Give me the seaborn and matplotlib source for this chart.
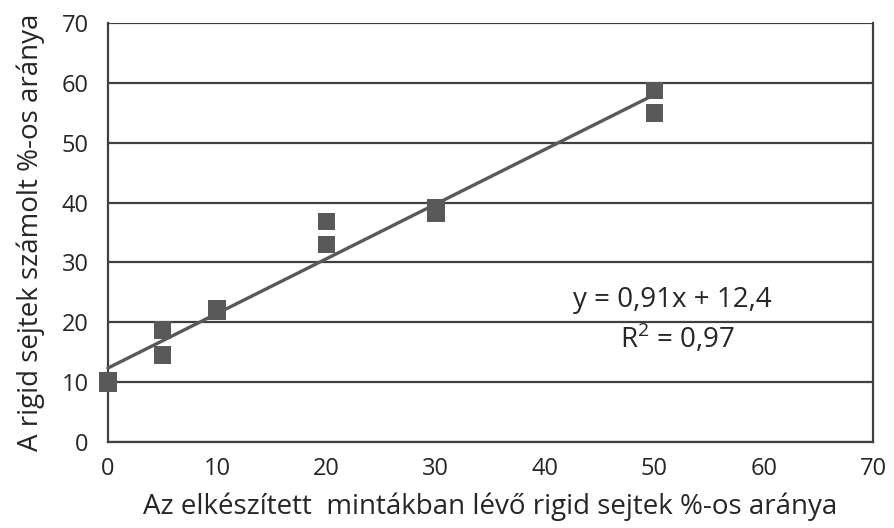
import matplotlib
matplotlib.use("Agg")
import matplotlib.pyplot as plt
import seaborn as sns
import pandas as pd

x_vals = [0, 0, 5, 5, 10, 10, 20, 20, 30, 30, 50, 50]
y_vals = [9.8, 10.3, 18.7, 14.5, 21.8, 22.2, 36.8, 33.0, 39.2, 38.3, 58.7, 55.0]
x_ticks = [0, 10, 20, 30, 40, 50, 60, 70]
y_ticks = [0, 10, 20, 30, 40, 50, 60, 70]
xlabel = "Az elkészített  mintákban lévő rigid sejtek %-os aránya"
ylabel = "A rigid sejtek számolt %-os aránya"
eq_text = "y = 0,91x + 12,4"
r2_text = "R$^2$ = 0,97"

df = pd.DataFrame({"x": x_vals, "y": y_vals})

sns.set_style("white")
plt.rcParams["font.family"] = ["Open Sans", "DejaVu Sans"]
plt.rcParams["mathtext.fontset"] = "custom"
plt.rcParams["mathtext.rm"] = "Open Sans"

fig = plt.figure(figsize=(8.94, 5.28), dpi=100)
ax = fig.add_axes([0.1208, 0.163, 0.8557, 0.7934])

dark = "#595959"
sns.regplot(data=df, x="x", y="y", ax=ax, ci=None, truncate=True,
            marker="s",
            scatter_kws=dict(s=160, color=dark, edgecolors="none", alpha=1,
                             zorder=3, clip_on=False),
            line_kws=dict(color=dark, lw=2.4, zorder=4, clip_on=False))

ax.set_xlim(0, 70)
ax.set_ylim(0, 70)
ax.set_xticks(x_ticks)
ax.set_yticks(y_ticks)
ax.yaxis.grid(True, color="#404040", lw=1.6)
ax.set_axisbelow(True)
for side in ["left", "bottom", "right"]:
    ax.spines[side].set_visible(True)
    ax.spines[side].set_color("#404040")
    ax.spines[side].set_linewidth(1.6)
ax.spines["top"].set_visible(False)
ax.tick_params(axis="both", direction="out", length=6, width=1.6, color="#404040",
               labelsize=17, labelcolor="#262626")
ax.tick_params(axis="y", pad=8)
ax.tick_params(axis="x", pad=5)
ax.set_xlabel(xlabel, fontsize=20, color="#262626", labelpad=8)
ax.set_ylabel(ylabel, fontsize=20, color="#262626", labelpad=12)

ax.text(0.738, 0.339, eq_text, transform=ax.transAxes, ha="center", va="center",
        fontsize=20, color="#262626")
ax.text(0.744, 0.248, r2_text, transform=ax.transAxes, ha="center", va="center",
        fontsize=20, color="#262626")

fig.savefig("out.png", dpi=100)
